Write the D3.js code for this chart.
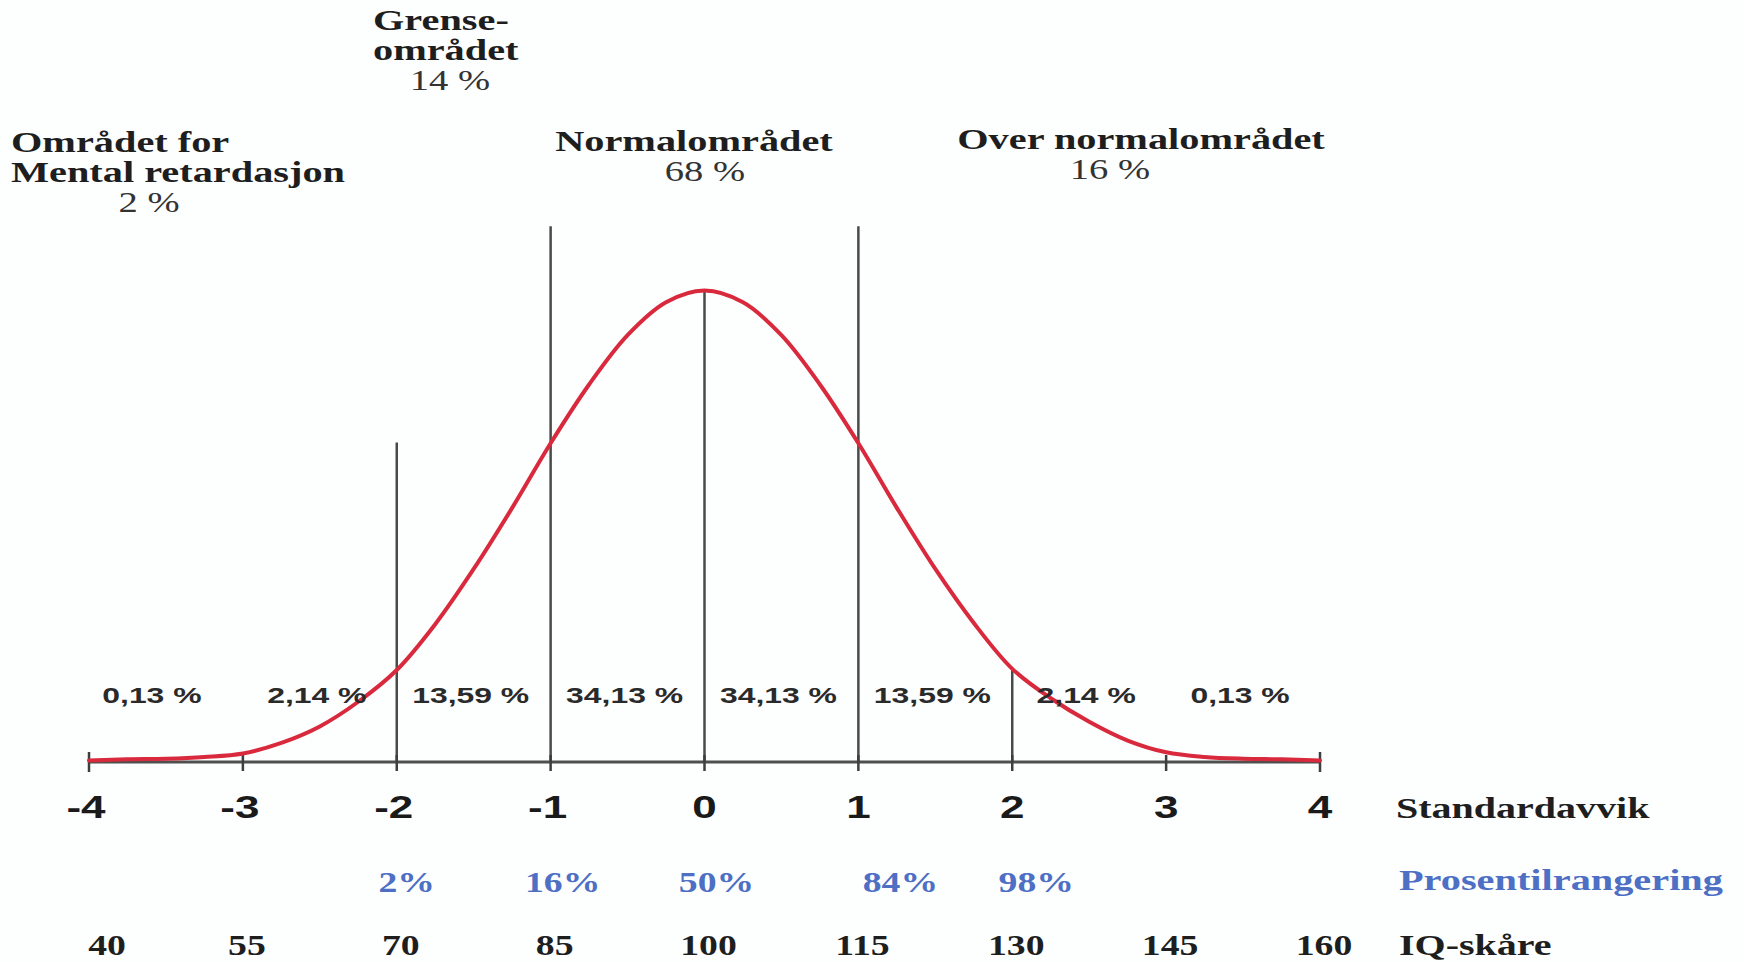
<!DOCTYPE html>
<html>
<head>
<meta charset="utf-8">
<script src="https://cdn.jsdelivr.net/npm/d3@7"></script>
<style>
  html, body { margin: 0; padding: 0; background: #fdfefe; }
  svg { display: block; }
</style>
</head>
<body>
<svg id="chart" width="1744" height="962"></svg>
<script>
// ---------------- DATA ----------------
const sdTicks = [-4, -3, -2, -1, 0, 1, 2, 3, 4];
const iqScores = [40, 55, 70, 85, 100, 115, 130, 145, 160];
const percentileSD = [-2, -1, 0, 1, 2];
const percentileLabels = ["2%", "16%", "50%", "84%", "98%"];
const segmentMidSD = [-3.5, -2.5, -1.5, -0.5, 0.5, 1.5, 2.5, 3.5];
const segmentLabels = ["0,13 %", "2,14 %", "13,59 %", "34,13 %", "34,13 %", "13,59 %", "2,14 %", "0,13 %"];
// curve heights (relative units, peak = 0.40)
const curveSD = [-4, -3.75, -3.5, -3.25, -3, -2.75, -2.5, -2.25, -2, -1.75, -1.5, -1.25, -1, -0.75, -0.5, -0.25, 0,
                 0.25, 0.5, 0.75, 1, 1.25, 1.5, 1.75, 2, 2.25, 2.5, 2.75, 3, 3.25, 3.5, 3.75, 4];
const curveH = [0.000, 0.001, 0.0015, 0.003, 0.006, 0.015, 0.029, 0.050, 0.077, 0.116, 0.163, 0.215, 0.270, 0.320, 0.362, 0.390, 0.400,
                0.390, 0.362, 0.320, 0.270, 0.215, 0.163, 0.117, 0.078, 0.053, 0.033, 0.017, 0.007, 0.003, 0.0015, 0.001, 0.000];
// divider lines: position (SD) and top height (same units as curve)
const dividerSD = [-2, -1, 0, 1, 2];
const dividerTop = [0.272, 0.456, 0.400, 0.456, 0.078];
// region headings
const regionLines = [["Grense-", "området"], ["Området for", "Mental retardasjon"], ["Normalområdet"], ["Over normalområdet"]];
const regionShares = ["14 %", "2 %", "68 %", "16 %"];
const rowTitles = ["Standardavvik", "Prosentilrangering", "IQ-skåre"];

// ---------------- LAYOUT ----------------
const svg = d3.select("#chart");
const x = d3.scaleLinear().domain([-4, 4]).range([89, 1320]);
const y = d3.scaleLinear().domain([0, 0.4]).range([762, 292]);
const SX = 1.33; // horizontal stretch of the lettering in the original
const SERIF = "'Liberation Serif', 'Times New Roman', serif";
const SANS = "'Liberation Sans', Arial, sans-serif";
const INK = "#1e1e1e";
const BLUE = "#4d6fc4";

function addText(px, py, str, o) {
  svg.append("text")
    .attr("transform", `translate(${px},${py}) scale(${o.sx || SX},1)`)
    .attr("text-anchor", o.anchor || "middle")
    .attr("font-family", o.family || SERIF)
    .attr("font-weight", o.weight || "bold")
    .attr("font-size", o.size)
    .attr("fill", o.fill || INK)
    .text(str);
}

// divider lines
svg.append("g").selectAll("line").data(dividerSD).join("line")
  .attr("x1", d => x(d)).attr("x2", d => x(d))
  .attr("y1", (d, i) => y(dividerTop[i])).attr("y2", y(0))
  .attr("stroke", "#4a4a4a").attr("stroke-width", 2.5);

// axis line
svg.append("line").attr("x1", x(-4)).attr("x2", x(4)).attr("y1", y(0)).attr("y2", y(0))
  .attr("stroke", "#4f4f4f").attr("stroke-width", 3);
// ticks
svg.append("g").selectAll("line").data(sdTicks).join("line")
  .attr("x1", d => x(d)).attr("x2", d => x(d))
  .attr("y1", d => Math.abs(d) === 4 ? y(0) - 10 : y(0) - 7)
  .attr("y2", d => Math.abs(d) === 4 ? y(0) + 10 : y(0) + 9)
  .attr("stroke", "#3e3e3e").attr("stroke-width", 2.5);

// curve
const pts = curveSD.map((d, i) => [d, curveH[i]]);
svg.append("path").datum(pts)
  .attr("d", d3.line().x(d => x(d[0])).y(d => y(d[1]) - 1.5).curve(d3.curveCatmullRom))
  .attr("fill", "none").attr("stroke", "#d92a3d").attr("stroke-width", 4)
  .attr("stroke-linecap", "round");

// segment labels
segmentMidSD.forEach((d, i) => {
  addText(x(d) - (i === 0 ? 14 : 3), 703, segmentLabels[i], {family: SANS, size: 22, sx: 1.45, fill: "#2a2a2a"});
});

// SD tick labels
sdTicks.forEach(d => {
  addText(x(d) + (d < 0 ? -3 : 0), 818, d < 0 ? "-" + Math.abs(d) : String(d), {family: SANS, size: 31, sx: 1.42, fill: "#1a1a1a"});
});

// percentile labels
const pctOffset = [10, 12, 12, 42, 24];
percentileSD.forEach((d, i) => {
  addText(x(d) + pctOffset[i], 892, percentileLabels[i], {size: 29, fill: BLUE, sx: 1.3});
});

// IQ labels
iqScores.forEach((v, i) => {
  addText(x(sdTicks[i]) + (i === 0 ? 18 : 4), 955, String(v), {size: 29, sx: 1.3});
});

// row titles
addText(1396, 818, rowTitles[0], {size: 29, anchor: "start", sx: 1.38});
addText(1399, 890, rowTitles[1], {size: 29, anchor: "start", fill: BLUE, sx: 1.39});
addText(1399, 955, rowTitles[2], {size: 29, anchor: "start", sx: 1.38});

// region headings
const headPos = [[373, 30, "start"], [11, 152, "start"], [694, 151, "middle"], [1141, 149, "middle"]];
const shareX = [450, 149, 705, 1110];
regionLines.forEach((lines, i) => {
  const [hx, by, anchor] = headPos[i];
  lines.forEach((t, j) => {
    addText(hx, by + j * 30, t, {size: 29, anchor: anchor, sx: 1.39});
  });
  addText(shareX[i], by + lines.length * 30, regionShares[i], {size: 29, weight: "normal", fill: "#333"});
});
</script>
</body>
</html>
